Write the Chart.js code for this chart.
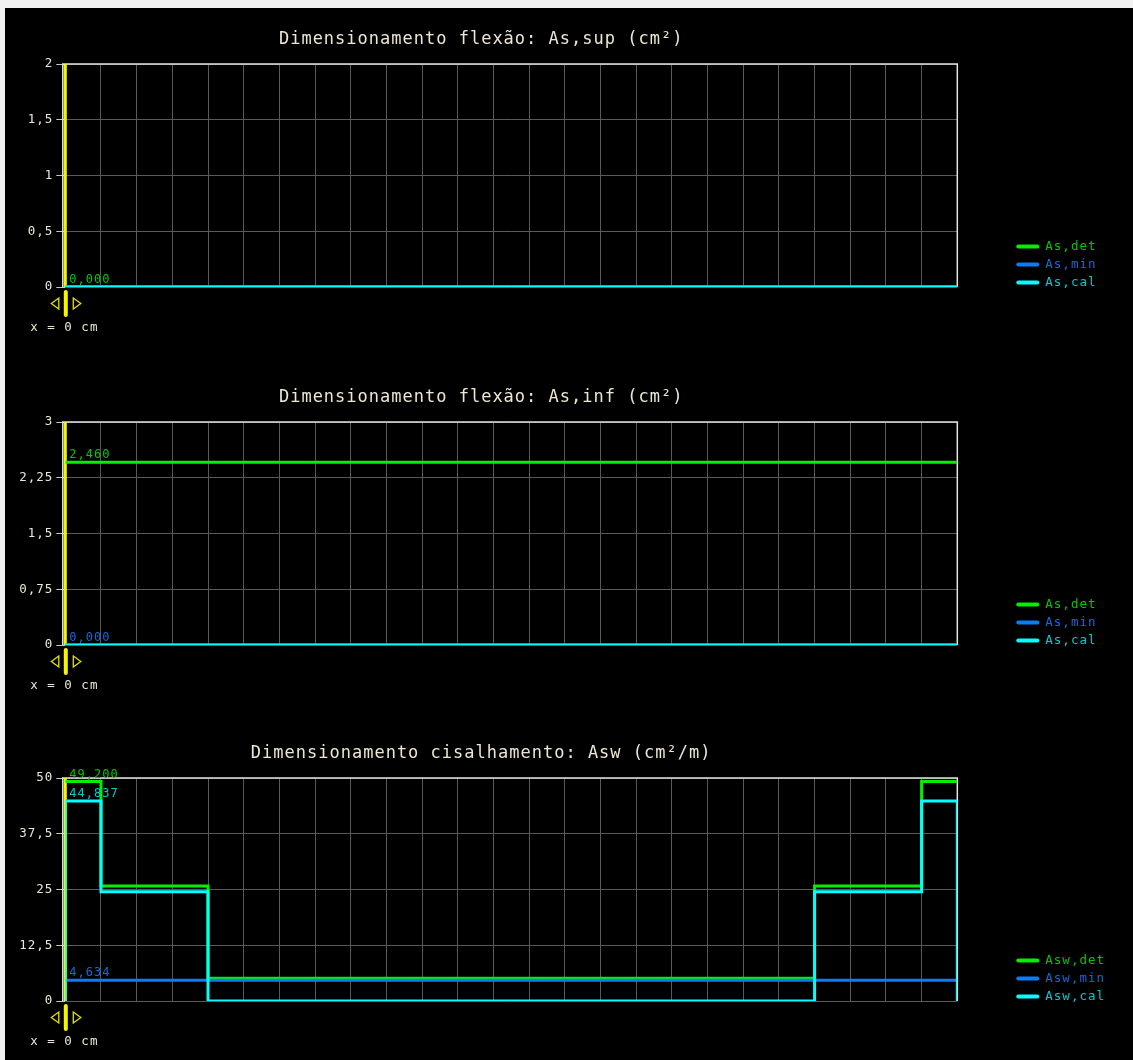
<!DOCTYPE html>
<html>
<head>
<title>Dimensionamento</title>
<script src="https://cdn.jsdelivr.net/npm/chart.js@4.4.0/dist/chart.umd.min.js"></script>
<style>
body { margin: 0; background: #f2f2f2; }
#fundo { position: absolute; left: 5px; top: 8px; width: 1128px; height: 1052px; background: #000; }
.painel { position: absolute; left: 0; width: 1128px; height: 330px; }
</style>
</head>
<body>
<div id="fundo">
<div class="painel" style="top:6px"><canvas id="g1"></canvas></div>
<div class="painel" style="top:364px"><canvas id="g2"></canvas></div>
<div class="painel" style="top:720px"><canvas id="g3"></canvas></div>
</div>

<script>
var titulos = ['Dimensionamento flexão: As,sup (cm²)',
               'Dimensionamento flexão: As,inf (cm²)',
               'Dimensionamento cisalhamento: Asw (cm²/m)'];
var nomesAs  = ['As,det', 'As,min', 'As,cal'];
var nomesAsw = ['Asw,det', 'Asw,min', 'Asw,cal'];
var yMax   = [2, 3, 50];
var yPasso = [0.5, 0.75, 12.5];
var xFim = 25;      // divisões da viga
var xCursor = 0;    // cm

// As,sup
var supX   = [0, 25];
var supDet = [0, 0];
var supMin = [0, 0];
var supCal = [0, 0];
// As,inf
var infX   = [0, 25];
var infDet = [2.46, 2.46];
var infMin = [0, 0];
var infCal = [0, 0];
// Asw
var aswX    = [0, 1, 4, 21, 24, 25];
var aswDet  = [49.2, 25.8, 5.1, 25.8, 49.2, 49.2];
var aswMin  = [4.634, 4.634, 4.634, 4.634, 4.634, 4.634];
var aswCalX = [0, 0, 1, 4, 21, 24, 25];
var aswCal  = [0, 44.837, 24.5, 0, 24.5, 44.837, 0];

// quais valores aparecem no cursor (det, min, cal)
var mostraValor = [[true, false, false], [true, true, false], [true, true, true]];

var corLinha = ['#00f000', '#0a7cf5', '#00ffff'];
var corTexto = ['#00c800', '#1469d8', '#00cccc'];
var corEixo = '#ece6d2';
var fonte = 'DejaVu Sans Mono';

function pares(xs, ys) {
	return ys.map(function(v, i) { return {x: xs[i], y: v}; });
}
function valorEm(pts, x) {
	var v = pts[0].y;
	pts.forEach(function(p) { if (p.x <= x) v = p.y; });
	return v;
}
function fmt(v, casas) {
	return (casas === undefined ? String(v) : v.toFixed(casas)).replace('.', ',');
}

var desenho = {
	id: 'desenho',
	beforeDraw: function(chart) {
		chart.ctx.letterSpacing = '1px';
	},
	beforeDatasetsDraw: function(chart) {
		var a = chart.chartArea, ctx = chart.ctx;
		var cx = chart.scales.x.getPixelForValue(xCursor);
		ctx.save();
		// moldura
		ctx.strokeStyle = '#e4e4e4';
		ctx.lineWidth = 1.5;
		ctx.beginPath();
		ctx.moveTo(a.left - 2.5, a.bottom);
		ctx.lineTo(a.left - 2.5, a.top);
		ctx.lineTo(a.right, a.top);
		ctx.lineTo(a.right, a.bottom);
		ctx.stroke();
		// cursor
		ctx.strokeStyle = '#f5f500';
		ctx.lineWidth = 3;
		ctx.beginPath();
		ctx.moveTo(cx, a.top);
		ctx.lineTo(cx, a.bottom);
		ctx.stroke();
		ctx.lineWidth = 4;
		ctx.lineCap = 'round';
		ctx.beginPath();
		ctx.moveTo(cx + 0.5, a.bottom + 5);
		ctx.lineTo(cx + 0.5, a.bottom + 28);
		ctx.stroke();
		// setas
		var cy = a.bottom + 16.5;
		ctx.strokeStyle = '#e0e000';
		ctx.lineWidth = 1.3;
		ctx.lineCap = 'butt';
		ctx.beginPath();
		ctx.moveTo(cx - 14, cy); ctx.lineTo(cx - 6.5, cy - 5.5); ctx.lineTo(cx - 6.5, cy + 5.5); ctx.closePath();
		ctx.moveTo(cx + 15.5, cy); ctx.lineTo(cx + 8, cy - 5.5); ctx.lineTo(cx + 8, cy + 5.5); ctx.closePath();
		ctx.stroke();
		// posição
		ctx.fillStyle = corEixo;
		ctx.font = '12.5px "' + fonte + '"';
		ctx.textAlign = 'center';
		ctx.textBaseline = 'middle';
		ctx.fillText('x = ' + xCursor + ' cm', cx - 1, a.bottom + 41);
		ctx.restore();
	},
	afterDatasetsDraw: function(chart) {
		var ctx = chart.ctx, k = chart.options.indice;
		var cx = chart.scales.x.getPixelForValue(xCursor);
		ctx.save();
		ctx.font = '12px "' + fonte + '"';
		ctx.textAlign = 'left';
		ctx.textBaseline = 'alphabetic';
		chart.data.datasets.forEach(function(ds, i) {
			if (!mostraValor[k][i]) return;
			var v = valorEm(ds.data, xCursor);
			ctx.fillStyle = corTexto[i];
			ctx.fillText(fmt(v, 3), cx + 4, chart.scales.y.getPixelForValue(v) - 4);
		});
		ctx.restore();
	},
	afterDraw: function(chart) {
		var a = chart.chartArea, ctx = chart.ctx;
		ctx.save();
		ctx.font = '12.5px "' + fonte + '"';
		ctx.textAlign = 'left';
		ctx.textBaseline = 'middle';
		chart.data.datasets.forEach(function(ds, i) {
			var y = a.bottom - 40.5 + 18 * i;
			ctx.strokeStyle = ds.borderColor;
			ctx.lineWidth = 4;
			ctx.lineCap = 'round';
			ctx.beginPath();
			ctx.moveTo(a.right + 61, y);
			ctx.lineTo(a.right + 80, y);
			ctx.stroke();
			ctx.fillStyle = corTexto[i];
			ctx.fillText(ds.label, a.right + 88, y);
		});
		ctx.restore();
	}
};

function grafico(id, k, nomes, series) {
	var ctx = document.getElementById(id).getContext('2d');
	return new Chart(ctx, {
		type: 'line',
		data: {
			datasets: series.map(function(s, i) {
				return {
					label: nomes[i],
					data: s,
					borderColor: corLinha[i],
					borderWidth: 3,
					stepped: true,
					pointRadius: 0,
					fill: false,
					order: 3 - i
				};
			})
		},
		options: {
			indice: k,
			responsive: true,
			maintainAspectRatio: false,
			animation: false,
			layout: { padding: { left: 0, right: 175.7, top: 0, bottom: 57 } },
			plugins: {
				legend: { display: false },
				tooltip: { enabled: false },
				title: {
					display: true,
					text: titulos[k],
					color: corEixo,
					font: { family: fonte, size: 17, weight: 'normal' },
					padding: { top: 15, bottom: 14.6 }
				}
			},
			scales: {
				x: {
					type: 'linear',
					min: 0,
					max: xFim,
					ticks: { display: false, stepSize: 1 },
					grid: { color: '#5a5a5a', lineWidth: 1, drawTicks: false },
					border: { display: false }
				},
				y: {
					min: 0,
					max: yMax[k],
					afterFit: function(s) { s.width = 60.3; },
					ticks: {
						stepSize: yPasso[k],
						color: corEixo,
						padding: 3,
						font: { family: fonte, size: 12.5 },
						callback: function(v) { return fmt(v); }
					},
					grid: { color: '#5a5a5a', lineWidth: 1, tickLength: 9, tickColor: '#c8c8c8' },
					border: { display: false }
				}
			}
		},
		plugins: [desenho]
	});
}

grafico('g1', 0, nomesAs,  [pares(supX, supDet), pares(supX, supMin), pares(supX, supCal)]);
grafico('g2', 1, nomesAs,  [pares(infX, infDet), pares(infX, infMin), pares(infX, infCal)]);
grafico('g3', 2, nomesAsw, [pares(aswX, aswDet), pares(aswX, aswMin), pares(aswCalX, aswCal)]);
</script>
</body>
</html>
